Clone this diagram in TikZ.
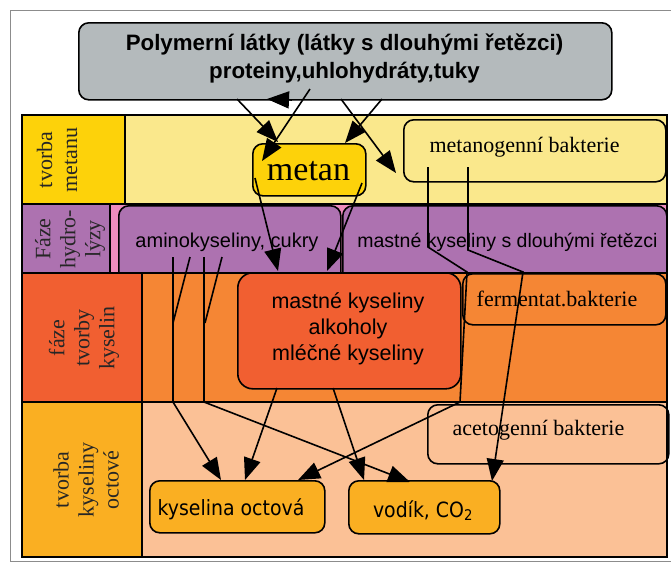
\documentclass[tikz,border=0pt]{standalone}
\usepackage{fontspec}
\setmainfont{Liberation Serif}
\setsansfont{Liberation Sans}
\newfontfamily\tahoma[FakeStretch=0.9]{DejaVu Sans}
\usetikzlibrary{arrows.meta}
\definecolor{gboxc}{RGB}{180,186,188}
\definecolor{goldc}{RGB}{253,210,10}
\definecolor{lyel}{RGB}{250,232,140}
\definecolor{purp}{RGB}{173,114,176}
\definecolor{pinkc}{RGB}{238,140,190}
\definecolor{redor}{RGB}{241,95,49}
\definecolor{orc}{RGB}{245,134,52}
\definecolor{yor}{RGB}{250,175,34}
\definecolor{peach}{RGB}{251,193,150}
\tikzset{
  rbox/.style={draw=black, line width=1.6pt, rounded corners=10pt},
  grid/.style={draw=black, line width=2pt},
  conn/.style={draw=black, line width=1.6pt},
  arr/.style={conn, -{Triangle[length=22pt,width=17pt]}},
  lab/.style={rotate=90, align=center, inner sep=0pt, text=black!85,
    font=\fontsize{22}{25}\selectfont},
  sertxt/.style={anchor=base, inner sep=0pt, font=\fontsize{22}{26}\selectfont},
  santxt/.style={anchor=base, inner sep=0pt, font=\sffamily\fontsize{20}{24}\selectfont},
}
\begin{document}
\begin{tikzpicture}[x=1pt,y=-1pt]
\useasboundingbox (0,0) rectangle (671,563);
% outer gray frame
\draw[black!45, line width=1pt] (675,10) -- (10,10) -- (10,561) -- (675,561);

% row 1
\fill[lyel] (125,115) rectangle (667,204);
\fill[goldc] (22,115) rectangle (125,204);
% row 2
\fill[pinkc] (110,204) rectangle (667,273);
\fill[purp] (22,204) rectangle (110,273);
\node[rbox, fill=purp, anchor=north west, minimum width=222pt, minimum height=80pt] (amino) at (118,205) {};
\node[rbox, fill=purp, anchor=north west, minimum width=324pt, minimum height=80pt] (mkdl) at (342,205) {};
% row 3
\fill[orc] (142,273) rectangle (667,402);
\fill[redor] (22,273) rectangle (142,402);
% row 4
\fill[peach] (142,402) rectangle (667,557);
\fill[yor] (22,402) rectangle (142,557);

% boxes
\node[rbox, fill=lyel, anchor=north west, minimum width=262pt, minimum height=62pt] (metbak) at (403,119) {};
\node[rbox, fill=goldc, anchor=north west, minimum width=113pt, minimum height=52pt] (metan) at (252,143) {};
\node[rbox, fill=orc, anchor=north west, minimum width=203pt, minimum height=51pt] (ferm) at (462,273) {};
\node[rbox, fill=redor, rounded corners=15pt, anchor=north west, minimum width=223pt, minimum height=116pt] (mk) at (237,272) {};
\node[rbox, fill=peach, anchor=north west, minimum width=241pt, minimum height=59pt] (acet) at (427,404) {};
\node[rbox, fill=yor, anchor=north west, minimum width=175pt, minimum height=52pt] (octova) at (149,480) {};
\node[rbox, fill=yor, anchor=north west, minimum width=151pt, minimum height=53pt] (vodik) at (348,480) {};

% grid lines
\draw[grid] (22,115) rectangle (667,557);
\draw[grid] (22,204) -- (667,204);
\draw[grid] (22,273) -- (667,273);
\draw[grid] (22,402) -- (667,402);
\draw[grid] (125,115) -- (125,204);
\draw[grid] (110,204) -- (110,273);
\draw[grid] (142,273) -- (142,557);

% row labels
\node[lab] (lab1) at (57,160) {tvorba\\metanu};
\node[lab] (lab2) at (70,239) {Fáze\\hydro-\\lýzy};
\node[lab] (lab3) at (84,338) {fáze\\tvorby\\kyselin};
\node[lab] (lab4) at (86,480) {tvorba\\kyseliny\\octové};

% top gray box
\node[rbox, fill=gboxc, anchor=north west, minimum width=533pt, minimum height=77pt] (poly) at (78,22) {};
\node[santxt, font=\sffamily\bfseries\fontsize{22.3}{27}\selectfont] (poly1) at (344.5,50) {Polymerní látky (látky s dlouhými řetězci)};
\node[santxt, font=\sffamily\bfseries\fontsize{22.3}{27}\selectfont] (poly2) at (344.5,78) {proteiny,uhlohydráty,tuky};

% texts in boxes
\node[sertxt, font=\fontsize{34}{40}\selectfont] (tmetan) at (308.5,180) {metan};
\node[sertxt] (tmetbak) at (524.5,152) {metanogenní bakterie};
\node[santxt] (tamino) at (227,247) {aminokyseliny, cukry};
\node[santxt, font=\sffamily\fontsize{19.5}{24}\selectfont] (tmkdl) at (507.5,247) {mastné kyseliny s dlouhými řetězci};
\node[santxt, font=\sffamily\fontsize{21.5}{26}\selectfont] (tmk1) at (348,308) {mastné kyseliny};
\node[santxt, font=\sffamily\fontsize{21.5}{26}\selectfont] (tmk2) at (348,334) {alkoholy};
\node[santxt, font=\sffamily\fontsize{21.5}{26}\selectfont] (tmk3) at (348,360) {mléčné kyseliny};
\node[sertxt] (tferm) at (557,306) {fermentat.bakterie};
\node[sertxt] (tacet) at (538.5,435) {acetogenní bakterie};
\node[santxt, font=\tahoma\fontsize{21}{25}\selectfont] (toct) at (231,515) {kyselina octová};
\node[santxt, font=\tahoma\fontsize{21}{25}\selectfont] (tvod) at (423,517) {vodík, CO\textsubscript{2}};

% connector end points
\coordinate (a0) at (237,99);  \coordinate (a1) at (278,142);
\coordinate (b0) at (310,89);  \coordinate (b1) at (262,161);
\coordinate (c0) at (292,100); \coordinate (c1) at (267,99);
\coordinate (d0) at (341,99);  \coordinate (d1) at (396,173);
\coordinate (e0) at (382,99);  \coordinate (e1) at (345,143);
\coordinate (f0) at (255,178); \coordinate (f1) at (278,271);
\coordinate (g0) at (362,183); \coordinate (g1) at (327,271);
\coordinate (h0) at (173,257); \coordinate (h1) at (173,402); \coordinate (h2) at (221,480);
\coordinate (i0) at (190,257); \coordinate (i1) at (173,323);
\coordinate (j0) at (204,257); \coordinate (j1) at (204,402); \coordinate (j2) at (410,482);
\coordinate (k0) at (222,257); \coordinate (k1) at (205,323);
\coordinate (l0) at (277,388); \coordinate (l1) at (245,480);
\coordinate (m0) at (333,388); \coordinate (m1) at (364,480);
\coordinate (n0) at (428,167); \coordinate (n1) at (428,247); \coordinate (n2) at (467,272);
\coordinate (n3) at (460,402); \coordinate (n4) at (298,480);
\coordinate (o0) at (468,167); \coordinate (o1) at (468,250); \coordinate (o2) at (523,272);
\coordinate (o3) at (492,481);

% connectors
\draw[arr] (a0) -- (a1);
\draw[arr] (b0) -- (b1);
\draw[arr] (c0) -- (c1);
\draw[arr] (d0) -- (d1);
\draw[arr] (e0) -- (e1);
\draw[arr] (f0) -- (f1);
\draw[arr] (g0) -- (g1);
\draw[arr] (h0) -- (h1) -- (h2);
\draw[conn] (i0) -- (i1);
\draw[arr] (j0) -- (j1) -- (j2);
\draw[conn] (k0) -- (k1);
\draw[arr] (l0) -- (l1);
\draw[arr] (m0) -- (m1);
\draw[arr] (n0) -- (n1) -- (n2) -- (n3) -- (n4);
\draw[arr] (o0) -- (o1) -- (o2) -- (o3);
\end{tikzpicture}
\end{document}
